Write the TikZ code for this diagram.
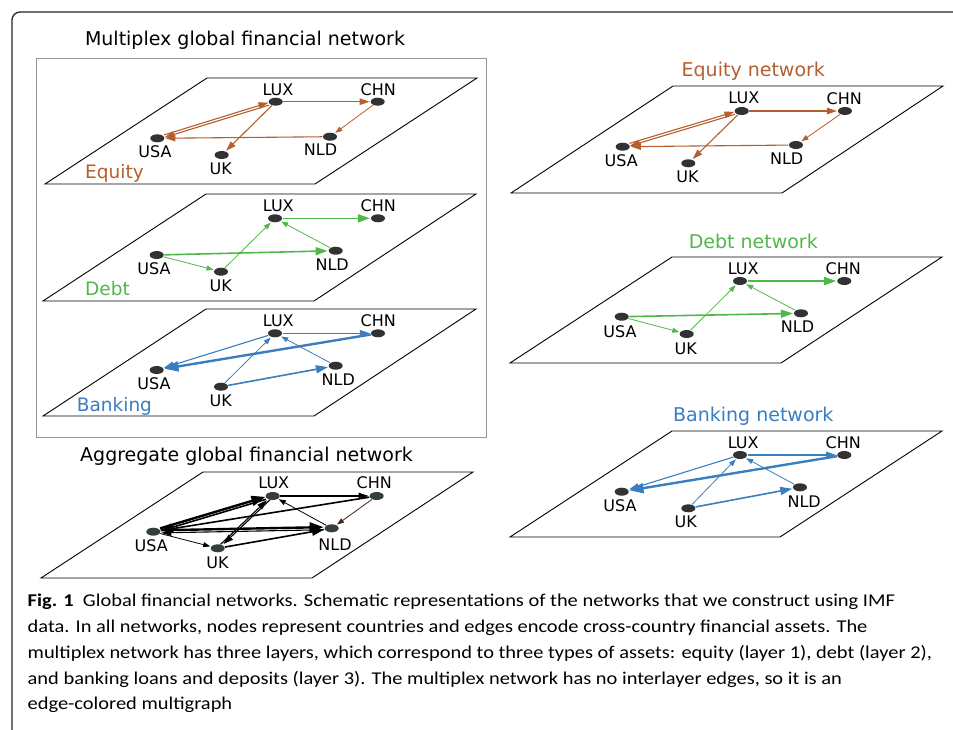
\documentclass[tikz,border=0pt]{standalone}
\usepackage{fontspec}
\setmainfont{DejaVu Sans}
\newfontfamily\capfont[FakeStretch=1.135]{Carlito}
\usetikzlibrary{arrows.meta,shapes.geometric}
\definecolor{eqc}{RGB}{181,95,47}
\definecolor{dbc}{RGB}{80,184,74}
\definecolor{bkc}{RGB}{58,126,192}
\definecolor{ndc}{RGB}{50,50,50}
\definecolor{agc}{RGB}{52,64,62}
\definecolor{frc}{RGB}{150,150,150}
\begin{document}
\begin{tikzpicture}[x=1pt,y=-1pt,
  nd/.style={ellipse, fill=ndc, minimum width=14pt, minimum height=8pt, inner sep=0pt, outer sep=0.6pt},
  ndag/.style={nd, fill=agc},
  lb/.style={anchor=base, inner sep=0pt, font=\fontsize{16}{18}\selectfont},
  ttl/.style={anchor=base, inner sep=0pt, font=\fontsize{19}{22}\selectfont},
  lyr/.style={anchor=base west, inner sep=0pt, font=\fontsize{18.5}{22}\selectfont},
  captxt/.style={anchor=base west, inner sep=0pt, font=\capfont\fontsize{18}{22}\selectfont},
  plane/.style={draw=black, line width=0.9pt, line join=miter},
  aA/.style={line width=0.8pt, -{Triangle[length=7pt,width=5pt]}, shorten >=0.5pt},
  aB/.style={line width=1.1pt, -{Triangle[length=10pt,width=6.5pt]}, shorten >=0.5pt},
  aC/.style={line width=1.6pt, -{Triangle[length=12pt,width=8pt]}, shorten >=0.5pt},
  aD/.style={line width=2.4pt, -{Triangle[length=14pt,width=10pt]}, shorten >=0.5pt},
  up/.style={transform canvas={yshift=1.3pt}},
  dn/.style={transform canvas={yshift=-1.3pt}},
  lf/.style={transform canvas={xshift=-1.3pt}},
  rt/.style={transform canvas={xshift=1.3pt}}
]
\useasboundingbox (0,0) rectangle (953,729);
\fill[white] (0,0) rectangle (953,729);
% outer frame
\draw[line width=1.3pt, color=black!85, rounded corners=8pt] (12,735) -- (12,12) -- (960,12);
% multiplex frame
\draw[frc, line width=0.9pt] (36,58) rectangle (486,437);
\node[ttl] (tmul) at (245,45) {Multiplex global financial network};
\node[ttl] (tagg) at (246.5,461) {Aggregate global financial network};
\node[ttl, text=eqc] (teq) at (753.3,76) {Equity network};
\node[ttl, text=dbc] (tdb) at (753.3,248.3) {Debt network};
\node[ttl, text=bkc] (tbk) at (753.3,421) {Banking network};

% planes
\draw[plane] (45,184) -- (207,78) -- (477,78) -- (315,184) -- cycle;
\draw[plane] (43,301) -- (206,194) -- (476,194) -- (314,301) -- cycle;
\draw[plane] (43,416) -- (206,309) -- (476,309) -- (314,416) -- cycle;
\draw[plane] (41,578) -- (203,472) -- (473,472) -- (312,578) -- cycle;
\draw[plane] (511,193) -- (673,86) -- (943,86) -- (782,193) -- cycle;
\draw[plane] (510,363) -- (672,257) -- (942,257) -- (781,363) -- cycle;
\draw[plane] (510,537) -- (672,431) -- (942,431) -- (780,537) -- cycle;

\node[lyr, text=eqc] (leq) at (85,178.3) {Equity};
\node[lyr, text=dbc] (ldb) at (85,295.7) {Debt};
\node[lyr, text=bkc] (lbk) at (76.7,411.7) {Banking};

% ---------- multiplex equity
\node[nd] (eLUX) at (275.7,101.7) {};
\node[nd] (eCHN) at (377.7,101.7) {};
\node[nd] (eUSA) at (157.3,138.3) {};
\node[nd] (eNLD) at (330,136.7) {};
\node[nd] (eUK) at (221.7,155) {};
\node[lb] (eLUXl) at (278,95) {LUX};
\node[lb] (eCHNl) at (378.3,95.7) {CHN};
\node[lb] (eUSAl) at (155,157.3) {USA};
\node[lb] (eNLDl) at (320.5,155.7) {NLD};
\node[lb] (eUKl) at (220.8,174.3) {UK};
\draw[aB, color=eqc, up] (eUSA) -- (eLUX);
\draw[aB, color=eqc, dn] (eLUX) -- (eUSA);
\draw[aB, color=eqc] (eLUX) -- (eCHN);
\draw[aA, color=eqc] (eCHN) -- (eNLD);
\draw[aB, color=eqc] (eNLD) -- (eUSA);
\draw[aB, color=eqc] (eLUX) -- (eUK);

% ---------- multiplex debt
\node[nd] (dLUX) at (275,218.3) {};
\node[nd] (dCHN) at (378,218.3) {};
\node[nd] (dUSA) at (156.7,255) {};
\node[nd] (dNLD) at (335.7,250.7) {};
\node[nd] (dUK) at (221,271.7) {};
\node[lb] (dLUXl) at (278.3,211.7) {LUX};
\node[lb] (dCHNl) at (378.3,211.7) {CHN};
\node[lb] (dUSAl) at (154,274.3) {USA};
\node[lb] (dNLDl) at (332.2,270) {NLD};
\node[lb] (dUKl) at (220.8,291) {UK};
\draw[aC, color=dbc] (dLUX) -- (dCHN);
\draw[aA, color=dbc] (dNLD) -- (dLUX);
\draw[aC, color=dbc] (dUSA) -- (dNLD);
\draw[aA, color=dbc] (dUSA) -- (dUK);
\draw[aA, color=dbc] (dUK) -- (dLUX);

% ---------- multiplex banking
\node[nd] (bLUX) at (275,333.3) {};
\node[nd] (bCHN) at (378,333.3) {};
\node[nd] (bUSA) at (156.7,370) {};
\node[nd] (bNLD) at (335.7,365.7) {};
\node[nd] (bUK) at (221,386.7) {};
\node[lb] (bLUXl) at (278.3,326.7) {LUX};
\node[lb] (bCHNl) at (378.3,326.7) {CHN};
\node[lb] (bUSAl) at (154,389.3) {USA};
\node[lb] (bNLDl) at (338.3,385) {NLD};
\node[lb] (bUKl) at (220.8,406) {UK};
\draw[aB, color=bkc] (bLUX) -- (bCHN);
\draw[aD, color=bkc] (bCHN) -- (bUSA);
\draw[aB, color=bkc] (bLUX) -- (bUSA);
\draw[aA, color=bkc] (bUK) -- (bLUX);
\draw[aA, color=bkc] (bNLD) -- (bLUX);
\draw[aC, color=bkc] (bUK) -- (bNLD);

% ---------- aggregate
\node[ndag] (aLUX) at (272.7,496) {};
\node[ndag] (aCHN) at (376.7,496) {};
\node[ndag] (aUSA) at (153.3,531.7) {};
\node[ndag] (aNLD) at (331.7,528.3) {};
\node[ndag] (aUK) at (217.7,548.3) {};
\node[lb] (aLUXl) at (273.8,488.3) {LUX};
\node[lb] (aCHNl) at (374.2,488.3) {CHN};
\node[lb] (aUSAl) at (151.2,551.7) {USA};
\node[lb] (aNLDl) at (335,550) {NLD};
\node[lb] (aUKl) at (217.5,568.3) {UK};
\draw[aD, up] (aUSA) -- (aLUX);
\draw[aC, dn] (aLUX) -- (aUSA);
\draw[aC] (aCHN) -- (aUSA);
\draw[aB] (aLUX) -- (aCHN);
\draw[aA] (aNLD) -- (aLUX);
\draw[aA, color=black!60!eqc] (aCHN) -- (aNLD);
\draw[aD, up] (aUSA) -- (aNLD);
\draw[aB, dn] (aNLD) -- (aUSA);
\draw[aA] (aUSA) -- (aUK);
\draw[aC] (aUK) -- (aNLD);
\draw[aB, lf] (aUK) -- (aLUX);
\draw[aB, rt] (aLUX) -- (aUK);

% ---------- right equity
\node[nd] (reLUX) at (741.7,111) {};
\node[nd] (reCHN) at (845,111) {};
\node[nd] (reUSA) at (622.7,146.7) {};
\node[nd] (reNLD) at (796,145) {};
\node[nd] (reUK) at (688.3,163.3) {};
\node[lb] (reLUXl) at (743.8,103.3) {LUX};
\node[lb] (reCHNl) at (844.2,104) {CHN};
\node[lb] (reUSAl) at (621.2,166.7) {USA};
\node[lb] (reNLDl) at (786.7,164.3) {NLD};
\node[lb] (reUKl) at (687.5,182.7) {UK};
\draw[aB, color=eqc, up] (reUSA) -- (reLUX);
\draw[aB, color=eqc, dn] (reLUX) -- (reUSA);
\draw[aB, color=eqc] (reLUX) -- (reCHN);
\draw[aA, color=eqc] (reCHN) -- (reNLD);
\draw[aB, color=eqc] (reNLD) -- (reUSA);
\draw[aB, color=eqc] (reLUX) -- (reUK);

% ---------- right debt
\node[nd] (rdLUX) at (740,281) {};
\node[nd] (rdCHN) at (844.3,281) {};
\node[nd] (rdUSA) at (621.7,316.7) {};
\node[nd] (rdNLD) at (801,313.3) {};
\node[nd] (rdUK) at (686.7,334) {};
\node[lb] (rdLUXl) at (743.2,274) {LUX};
\node[lb] (rdCHNl) at (843.3,274) {CHN};
\node[lb] (rdUSAl) at (620,337.3) {USA};
\node[lb] (rdNLDl) at (797.5,332.3) {NLD};
\node[lb] (rdUKl) at (685.8,354) {UK};
\draw[aC, color=dbc] (rdLUX) -- (rdCHN);
\draw[aA, color=dbc] (rdNLD) -- (rdLUX);
\draw[aC, color=dbc] (rdUSA) -- (rdNLD);
\draw[aA, color=dbc] (rdUSA) -- (rdUK);
\draw[aA, color=dbc] (rdUK) -- (rdLUX);

% ---------- right banking
\node[nd] (rbLUX) at (740,455) {};
\node[nd] (rbCHN) at (844.3,455) {};
\node[nd] (rbUSA) at (621.7,491.7) {};
\node[nd] (rbNLD) at (800,487.3) {};
\node[nd] (rbUK) at (688.3,508.3) {};
\node[lb] (rbLUXl) at (743.2,448.3) {LUX};
\node[lb] (rbCHNl) at (843.3,448.3) {CHN};
\node[lb] (rbUSAl) at (620,511.7) {USA};
\node[lb] (rbNLDl) at (804.2,507.3) {NLD};
\node[lb] (rbUKl) at (685.8,527.3) {UK};
\draw[aB, color=bkc] (rbLUX) -- (rbCHN);
\draw[aD, color=bkc] (rbCHN) -- (rbUSA);
\draw[aB, color=bkc] (rbLUX) -- (rbUSA);
\draw[aA, color=bkc] (rbUK) -- (rbLUX);
\draw[aA, color=bkc] (rbNLD) -- (rbLUX);
\draw[aC, color=bkc] (rbUK) -- (rbNLD);

% ---------- caption
\node[captxt] (c1) at (27.5,606.7) {\textbf{Fig. 1}\ \ Global financial networks. Schematic representations of the networks that we construct using IMF};
\node[captxt] (c2) at (27.5,632.5) {data. In all networks, nodes represent countries and edges encode cross-country financial assets. The};
\node[captxt] (c3) at (27.5,658.3) {multiplex network has three layers, which correspond to three types of assets: equity (layer 1), debt (layer 2),};
\node[captxt] (c4) at (27.5,684.1) {and banking loans and deposits (layer 3). The multiplex network has no interlayer edges, so it is an};
\node[captxt] (c5) at (27.5,709.9) {edge-colored multigraph};
\end{tikzpicture}
\end{document}
